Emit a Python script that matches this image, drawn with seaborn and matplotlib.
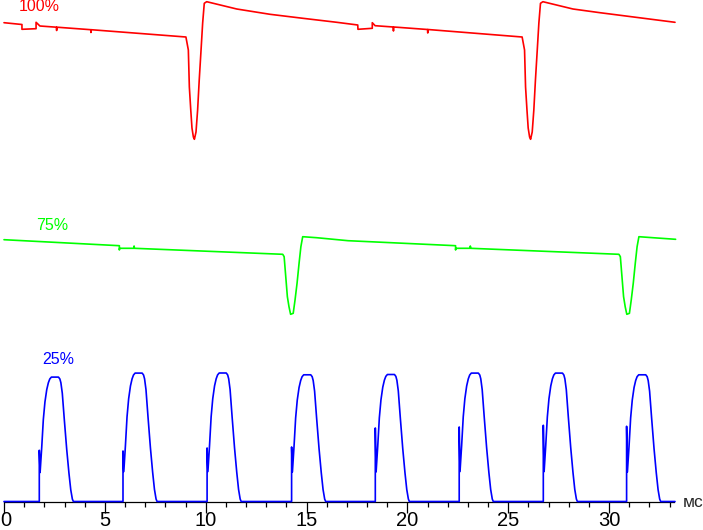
import matplotlib
matplotlib.use("Agg")
import matplotlib.pyplot as plt
import matplotlib.transforms as mtransforms
import seaborn as sns
import numpy as np

# === Data (time in ms, level in px above the axis) ===
red_t = [0.00, 0.89, 0.89, 1.59, 1.59, 1.78, 2.60, 2.61, 2.62, 4.30, 4.31, 4.32,
         9.02, 9.14, 9.19, 9.26, 9.32, 9.39,
         9.44, 9.52, 9.60, 9.68, 9.77, 9.85, 9.93, 10.05, 11.54, 13.19, 14.82,
         16.50, 17.54, 17.55, 18.26, 18.26, 18.40, 19.30, 19.31, 19.32, 21.00,
         21.01, 21.02, 25.69, 25.81, 25.86, 25.93,
         25.99, 26.06, 26.11, 26.19, 26.27, 26.35, 26.44, 26.52, 26.60, 26.72,
         28.21, 29.55, 33.27]
red_v = [479.3, 477.5, 472.7, 473.3, 479.7, 476.0, 474.8, 471.5, 474.8, 472.3,
         469.5, 472.3, 465.0, 452.0, 415.0, 392.0,
         374.0, 365.0, 362.7, 370.0, 392.0, 422.0, 452.0, 479.0, 498.7, 500.3,
         493.0, 487.7, 483.7, 479.7, 477.0, 472.7, 473.7, 479.3, 476.3, 475.0,
         471.0, 475.0, 472.5, 469.0, 472.5, 465.0,
         452.0, 415.0, 392.0, 374.0, 365.0, 362.7, 370.0, 392.0, 422.0, 452.0,
         479.0, 498.7, 500.3, 493.0, 489.3, 479.7]

green_t = [0.00, 5.72, 5.72, 5.73, 6.45, 6.45, 6.47, 13.82, 13.89, 13.97, 14.05,
           14.13, 14.21, 14.34, 14.43, 14.53, 14.63, 14.72, 14.81, 15.50, 17.06,
           22.39, 22.39, 22.40, 23.12, 23.12, 23.14, 30.49, 30.56, 30.64, 30.72,
           30.80, 30.88, 31.01, 31.10, 31.20, 31.30, 31.39, 31.48, 32.17, 33.30]
green_v = [262.3, 256.3, 252.0, 253.7, 253.7, 256.0, 253.7, 247.7, 245.3, 225.3,
           205.3, 195.3, 187.7, 188.7, 202.0, 218.7, 238.7, 255.3, 265.3, 264.3,
           261.3, 256.3, 252.0, 253.7, 253.7, 256.0, 253.7, 247.7, 245.3, 225.3,
           205.3, 195.3, 187.7, 188.7, 202.0, 218.7, 238.7, 255.3, 265.3, 264.3,
           262.7]

# blue: 240 Hz pulses, one measured pulse shape + per-pulse start / top / spike
pulse_start = [1.75, 5.90, 10.07, 14.26, 18.41, 22.57, 26.74, 30.87]
pulse_top = [124.4, 128.4, 128.5, 126.7, 127.0, 128.4, 128.4, 126.7]
pulse_spike = [51.7, 51.0, 54.0, 55.0, 74.0, 75.0, 76.7, 75.7]
shape_dt = [0.04, 0.12, 0.20, 0.28, 0.37, 0.45, 0.52, 0.60, 0.95, 1.02, 1.07,
            1.14, 1.24, 1.36, 1.47, 1.56, 1.64, 1.69]
shape_frac = [0.233, 0.434, 0.659, 0.800, 0.900, 0.955, 0.985, 1.0, 1.0, 0.985,
              0.955, 0.871, 0.659, 0.418, 0.228, 0.094, 0.019, 0.0]
blue_base = 0.5
blue_end = 33.27

labels = ["100%", "75%", "25%"]
colors = ["#ff0000", "#00ff00", "#0000ff"]
label_pos = [(1.74, 495.5), (2.41, 276.5), (2.68, 142.0)]

# --- build blue trace from the pulse table ---
blue_t, blue_v = [0.0], [blue_base]
for t0, top, sp in zip(pulse_start, pulse_top, pulse_spike):
    blue_t += [t0, t0]
    blue_v += [blue_base, sp]
    blue_t += [t0 + d for d in shape_dt]
    blue_v += [blue_base + f * top for f in shape_frac]
blue_t.append(blue_end)
blue_v.append(blue_base)

sns.set_style("ticks")
plt.rcParams["font.family"] = ["Liberation Sans", "DejaVu Sans"]

fig = plt.figure(figsize=(7.03, 5.30), dpi=100)
ax = fig.add_axes([4 / 703, 28 / 530, 670 / 703, 502 / 530])

for t, v, c in zip([red_t, green_t, blue_t], [red_v, green_v, blue_v], colors):
    sns.lineplot(x=t, y=v, sort=False, estimator=None, color=c, lw=1.2,
                 ax=ax, clip_on=False, zorder=3)

for lab, (x, y), c in zip(labels, label_pos, colors):
    ax.text(x, y, lab, color=c, fontsize=11.5, ha="center", va="center")

ax.set_xlim(0, 33.22)
ax.set_ylim(0, 502)
ax.set_xticks(np.arange(0, 31, 5))
ax.set_xticks(np.arange(0, 34, 1), minor=True)
ax.set_yticks([])
ax.set_xlabel("")
ax.set_ylabel("")
ax.tick_params(axis="x", which="major", length=7.9, width=0.9, direction="out",
               color="black", labelsize=14.5, pad=-1.5, labelcolor="black")
ax.tick_params(axis="x", which="minor", length=3.6, width=0.9, direction="out",
               color="black")
sns.despine(ax=ax, left=True)
ax.spines["bottom"].set_color("black")
ax.spines["bottom"].set_linewidth(0.9)
ax.patch.set_visible(False)

# the "0" sits right at the left edge, nudge it in a bit
zero_lab = ax.xaxis.get_major_ticks()[0].label1
zero_lab.set_transform(zero_lab.get_transform() +
                       mtransforms.ScaledTranslation(2 / 100, 0, fig.dpi_scale_trans))

ax.text(34.16, -0.5, "мс", fontsize=12.5, ha="center", va="center",
        transform=ax.transData, clip_on=False)

plt.savefig("out.png", dpi=100)
plt.close()
